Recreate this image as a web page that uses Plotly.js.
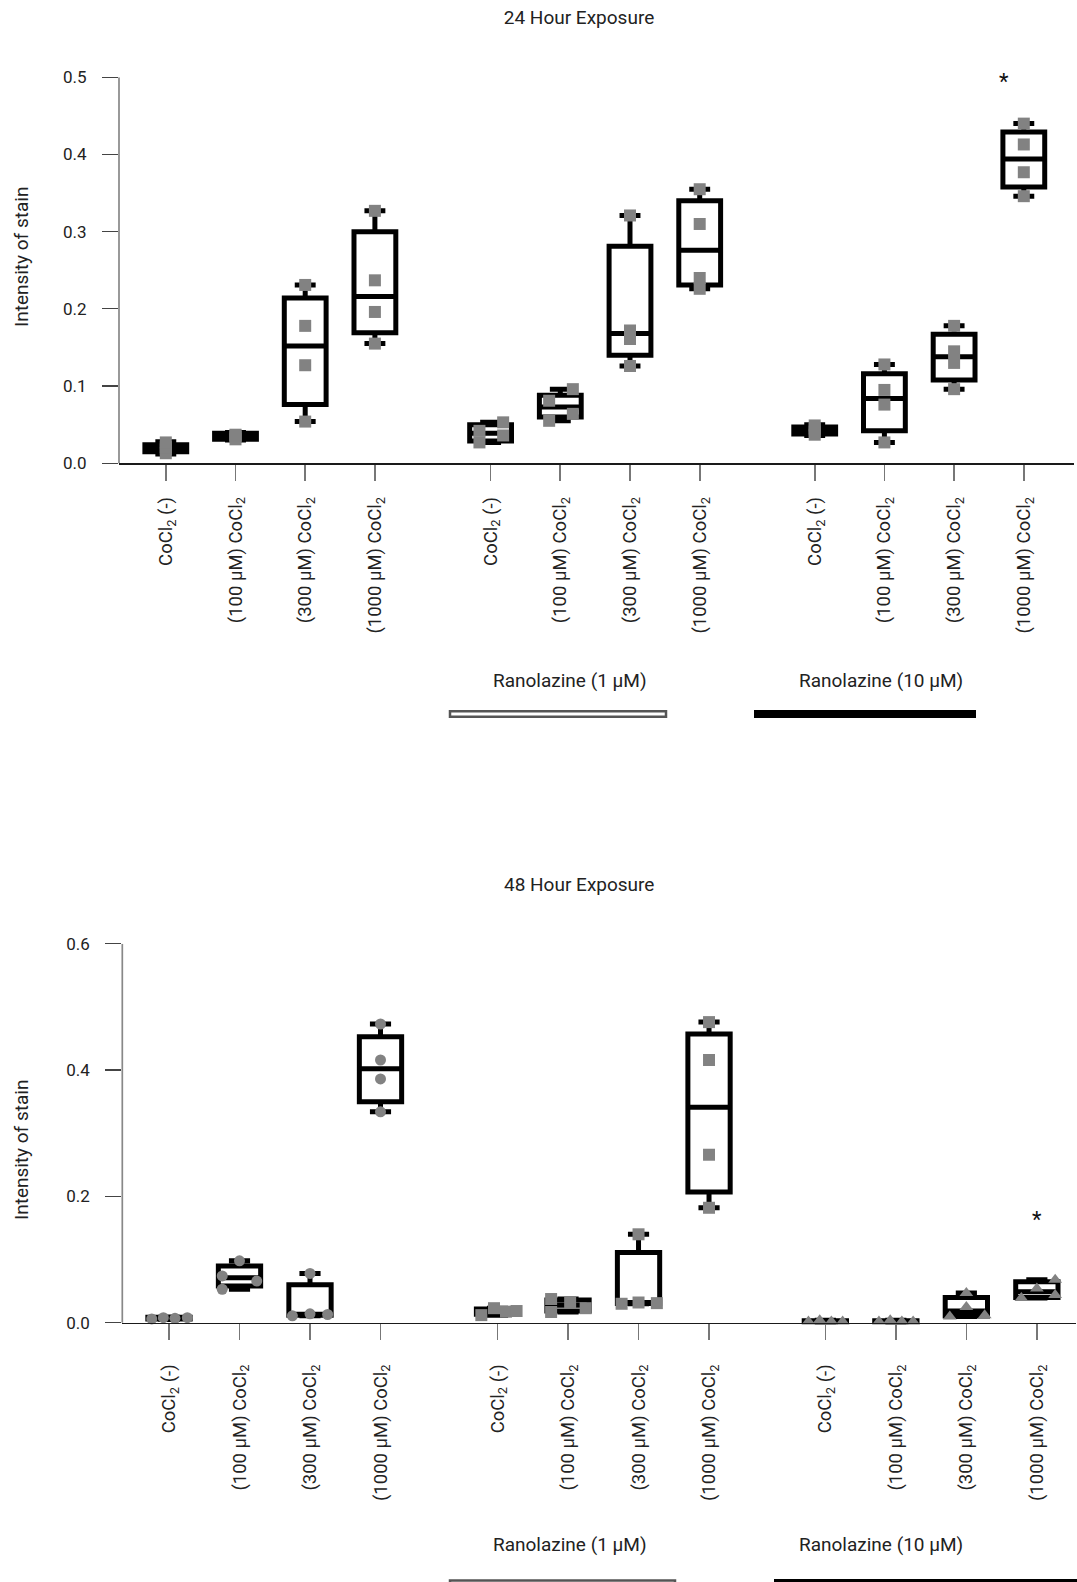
<!DOCTYPE html>
<html>
<head>
<meta charset="utf-8">
<script src="https://cdn.plot.ly/plotly-3.0.1.min.js"></script>
<style>html,body{margin:0;padding:0;background:#fff;}#chart{width:1077px;height:1582px;}</style>
</head>
<body>
<div id="chart"></div>
<script>
// ---------------- DATA ----------------
const positions = [0, 1, 2, 3, 4.66, 5.66, 6.66, 7.66, 9.31, 10.31, 11.31, 12.31];
const tickLabels = [
  'CoCl<sub>2</sub> (-)', '(100 µM) CoCl<sub>2</sub>', '(300 µM) CoCl<sub>2</sub>', '(1000 µM) CoCl<sub>2</sub>',
  'CoCl<sub>2</sub> (-)', '(100 µM) CoCl<sub>2</sub>', '(300 µM) CoCl<sub>2</sub>', '(1000 µM) CoCl<sub>2</sub>',
  'CoCl<sub>2</sub> (-)', '(100 µM) CoCl<sub>2</sub>', '(300 µM) CoCl<sub>2</sub>', '(1000 µM) CoCl<sub>2</sub>'
];
const yTicks24 = [0, 0.1, 0.2, 0.3, 0.4, 0.5];
const yTicks48 = [0, 0.2, 0.4, 0.6];
const groupLabels = ['Ranolazine (1 µM)', 'Ranolazine (10 µM)'];
const yTitle = 'Intensity of stain';

// 24 hour exposure: box statistics
const h24Lower  = [0.012, 0.030, 0.054, 0.155, 0.027, 0.055, 0.126, 0.226, 0.036, 0.027, 0.096, 0.346];
const h24Q1     = [0.015, 0.031, 0.076, 0.169, 0.029, 0.060, 0.140, 0.231, 0.038, 0.042, 0.108, 0.358];
const h24Median = [0.019, 0.035, 0.152, 0.216, 0.039, 0.073, 0.168, 0.276, 0.043, 0.084, 0.138, 0.394];
const h24Q3     = [0.024, 0.039, 0.214, 0.300, 0.050, 0.088, 0.281, 0.340, 0.047, 0.116, 0.167, 0.429];
const h24Upper  = [0.028, 0.040, 0.231, 0.327, 0.053, 0.096, 0.321, 0.355, 0.050, 0.128, 0.178, 0.440];
// 24 hour exposure: individual points and their horizontal scatter
const h24Points = [
  [0.013, 0.018, 0.021, 0.027], [0.031, 0.034, 0.036, 0.037], [0.054, 0.127, 0.178, 0.231], [0.155, 0.196, 0.237, 0.327],
  [0.027, 0.042, 0.036, 0.053], [0.055, 0.081, 0.064, 0.096], [0.126, 0.161, 0.172, 0.321], [0.226, 0.240, 0.310, 0.355],
  [0.037, 0.041, 0.045, 0.049], [0.027, 0.076, 0.095, 0.128], [0.096, 0.130, 0.145, 0.178], [0.346, 0.377, 0.413, 0.440]
];
const h24Jitter = [
  [0, 0, 0, 0], [0, 0, 0, 0], [0, 0, 0, 0], [0, 0, 0, 0],
  [-0.16, -0.16, 0.18, 0.18], [-0.16, -0.16, 0.18, 0.18], [0, 0, 0, 0], [0, 0, 0, 0],
  [0, 0, 0, 0], [0, 0, 0, 0], [0, 0, 0, 0], [0, 0, 0, 0]
];

// 48 hour exposure: box statistics
const h48Lower  = [0.005, 0.053, 0.011, 0.334, 0.012, 0.017, 0.030, 0.182, 0.001, 0.001, 0.010, 0.039];
const h48Q1     = [0.006, 0.058, 0.012, 0.350, 0.0134, 0.0185, 0.0303, 0.207, 0.002, 0.002, 0.0105, 0.040];
const h48Median = [0.0075, 0.071, 0.0135, 0.402, 0.018, 0.0275, 0.0315, 0.341, 0.002, 0.002, 0.0185, 0.049];
const h48Q3     = [0.0085, 0.090, 0.060, 0.453, 0.0219, 0.036, 0.111, 0.457, 0.003, 0.003, 0.040, 0.065];
const h48Upper  = [0.009, 0.098, 0.078, 0.473, 0.023, 0.0375, 0.140, 0.476, 0.004, 0.004, 0.047, 0.068];
const h48Points = [
  [0.006, 0.008, 0.007, 0.008], [0.053, 0.074, 0.098, 0.066], [0.011, 0.014, 0.013, 0.078], [0.334, 0.386, 0.416, 0.473],
  [0.012, 0.023, 0.0175, 0.0185], [0.0375, 0.017, 0.032, 0.023], [0.030, 0.032, 0.031, 0.140], [0.182, 0.266, 0.416, 0.476],
  [0.002, 0.004, 0.002, 0.002], [0.002, 0.004, 0.002, 0.002], [0.010, 0.025, 0.012, 0.047], [0.039, 0.054, 0.068, 0.044]
];
const h48Jitter = [
  [-0.245, -0.08, 0.085, 0.26], [-0.245, -0.245, 0, 0.245], [-0.25, 0, 0.25, 0], [0, 0, 0, 0],
  [-0.23, -0.05, 0.12, 0.27], [-0.24, -0.24, 0.03, 0.25], [-0.24, 0, 0.26, 0], [0, 0, 0, 0],
  [-0.24, -0.08, 0.085, 0.245], [-0.24, -0.08, 0.085, 0.245], [-0.235, 0, 0.26, 0], [-0.22, 0, 0.26, 0.26]
];
const h48Symbols = ['circle', 'circle', 'circle', 'circle', 'square', 'square', 'square', 'square',
  'triangle-up', 'triangle-up', 'triangle-up', 'triangle-up'];

// significance markers
const star24 = {x: 12.03, y: 0.499};
const star48 = {x: 12.31, y: 0.169};

// ---------------- LAYOUT HELPERS ----------------
const W = 1077, H = 1582;
const px = v => v / W;          // pixel x -> paper
const py = v => 1 - v / H;      // pixel y -> paper
const FONT = 'Roboto, "Open Sans", sans-serif';
const TXT = '#222';
const PTCOLOR = '#828282';
const LABEL_SIZE = 19;

function boxTrace(xa, ya, lo, q1, med, q3, hi) {
  return {
    type: 'box', xaxis: xa, yaxis: ya, orientation: 'v',
    x: positions, q1: q1, median: med, q3: q3, lowerfence: lo, upperfence: hi,
    width: 0.6, whiskerwidth: 0.5, boxpoints: false,
    fillcolor: '#ffffff', line: {color: '#000000', width: 5},
    hoverinfo: 'skip', showlegend: false
  };
}

function pointTraces(xa, ya, pts, jit, symbols) {
  const bySym = {};
  pts.forEach((arr, i) => {
    const s = symbols[i];
    if (!bySym[s]) bySym[s] = {x: [], y: []};
    arr.forEach((v, j) => {
      bySym[s].x.push(positions[i] + jit[i][j]);
      bySym[s].y.push(v);
    });
  });
  return Object.keys(bySym).map(s => ({
    type: 'scatter', mode: 'markers', xaxis: xa, yaxis: ya,
    x: bySym[s].x, y: bySym[s].y, cliponaxis: false,
    marker: {symbol: s, size: s === 'circle' ? 11 : 12, color: PTCOLOR, line: {width: 0}},
    hoverinfo: 'skip', showlegend: false
  }));
}

const squares = positions.map(() => 'square');
const data = [
  boxTrace('x', 'y', h24Lower, h24Q1, h24Median, h24Q3, h24Upper),
  boxTrace('x2', 'y2', h48Lower, h48Q1, h48Median, h48Q3, h48Upper),
  ...pointTraces('x', 'y', h24Points, h24Jitter, squares),
  ...pointTraces('x2', 'y2', h48Points, h48Jitter, h48Symbols)
];

function xAxis(domL, domR, x0, unit, zeroPy, standoff) {
  return {
    domain: [px(domL), px(domR)],
    range: [(domL - x0) / unit, (domR - x0) / unit],
    anchor: 'free', position: py(zeroPy),
    tickmode: 'array', tickvals: positions, ticktext: tickLabels, tickangle: -90,
    ticks: 'outside', ticklen: 16, tickwidth: 1.6, tickcolor: '#777',
    showline: true, linecolor: '#1a1a1a', linewidth: 1.3,
    showgrid: false, zeroline: false, tickfont: {family: FONT, size: 18.5, color: TXT},
    ticklabelstandoff: standoff,
    fixedrange: true
  };
}
function yAxis(topPy, botPy, lo, hi, ticks, xa) {
  return {
    domain: [py(botPy), py(topPy)], range: [lo, hi], anchor: xa,
    tickmode: 'array', tickvals: ticks, tickformat: '.1f',
    ticks: 'outside', ticklen: 16, tickwidth: 1.2, tickcolor: '#444',
    showline: false, showgrid: false, zeroline: false, tickfont: {family: FONT, size: 17, color: TXT},
    ticklabelstandoff: 12,
    fixedrange: true
  };
}

function label(text, x, y, angle) {
  return {text: text, xref: 'paper', yref: 'paper', x: px(x), y: py(y), showarrow: false,
          textangle: angle || 0,
          xanchor: 'center', yanchor: 'middle', font: {family: FONT, size: LABEL_SIZE, color: TXT}};
}

const layout = {
  width: W, height: H, margin: {l: 0, r: 0, t: 0, b: 0, autoexpand: false},
  paper_bgcolor: '#fff', plot_bgcolor: 'rgba(0,0,0,0)',
  font: {family: FONT, color: TXT},
  showlegend: false, boxmode: 'overlay',
  title: {text: '24 Hour Exposure', font: {family: FONT, size: LABEL_SIZE, color: TXT},
          x: px(579), xanchor: 'center', xref: 'paper', y: py(17.5), yanchor: 'middle', yref: 'paper'},
  xaxis: xAxis(119, 1074, 165.8, 69.7, 463.3, 9),
  yaxis: yAxis(77.3, 478.7, -0.02, 0.5, yTicks24, 'x'),
  xaxis2: xAxis(122.3, 1076, 169, 70.5, 1322.7, 17),
  yaxis2: yAxis(943.8, 1338.5, -0.025, 0.6, yTicks48, 'x2'),
  annotations: [
    label('48 Hour Exposure', 579, 884),
    label(yTitle, 21, 257, -90),
    label(yTitle, 21, 1150, -90),
    label(groupLabels[0], 570, 680),
    label(groupLabels[1], 881, 680),
    label(groupLabels[0], 570, 1544),
    label(groupLabels[1], 881, 1544),
    {text: '*', xref: 'x', yref: 'y', x: star24.x, y: star24.y, showarrow: false, yshift: -3,
     xanchor: 'center', yanchor: 'middle', font: {family: FONT, size: 22, color: '#111'}},
    {text: '*', xref: 'x2', yref: 'y2', x: star48.x, y: star48.y, showarrow: false, yshift: -4,
     xanchor: 'center', yanchor: 'middle', font: {family: FONT, size: 22, color: '#111'}}
  ],
  shapes: [
    // y axis lines (from 0 to top tick)
    {type: 'line', xref: 'paper', yref: 'y', x0: px(119), x1: px(119), y0: 0, y1: 0.5, line: {color: '#888', width: 1.7}, layer: 'below'},
    {type: 'line', xref: 'paper', yref: 'y2', x0: px(122.3), x1: px(122.3), y0: 0, y1: 0.6, line: {color: '#888', width: 1.7}, layer: 'below'},
    // treatment bars, 24 h
    {type: 'rect', xref: 'paper', yref: 'paper', x0: px(450), x1: px(666), y0: py(711.2), y1: py(716.8),
     fillcolor: '#fff', line: {color: '#555', width: 2.5}},
    {type: 'rect', xref: 'paper', yref: 'paper', x0: px(754), x1: px(976), y0: py(710), y1: py(718),
     fillcolor: '#000', line: {width: 0}},
    // treatment bars, 48 h
    {type: 'rect', xref: 'paper', yref: 'paper', x0: px(450), x1: px(675), y0: py(1580.5), y1: py(1590),
     fillcolor: '#fff', line: {color: '#555', width: 2.5}},
    {type: 'rect', xref: 'paper', yref: 'paper', x0: px(774), x1: px(1080), y0: py(1579), y1: py(1590),
     fillcolor: '#000', line: {width: 0}}
  ]
};

Plotly.newPlot('chart', data, layout, {displayModeBar: false, staticPlot: true});
</script>
</body>
</html>
